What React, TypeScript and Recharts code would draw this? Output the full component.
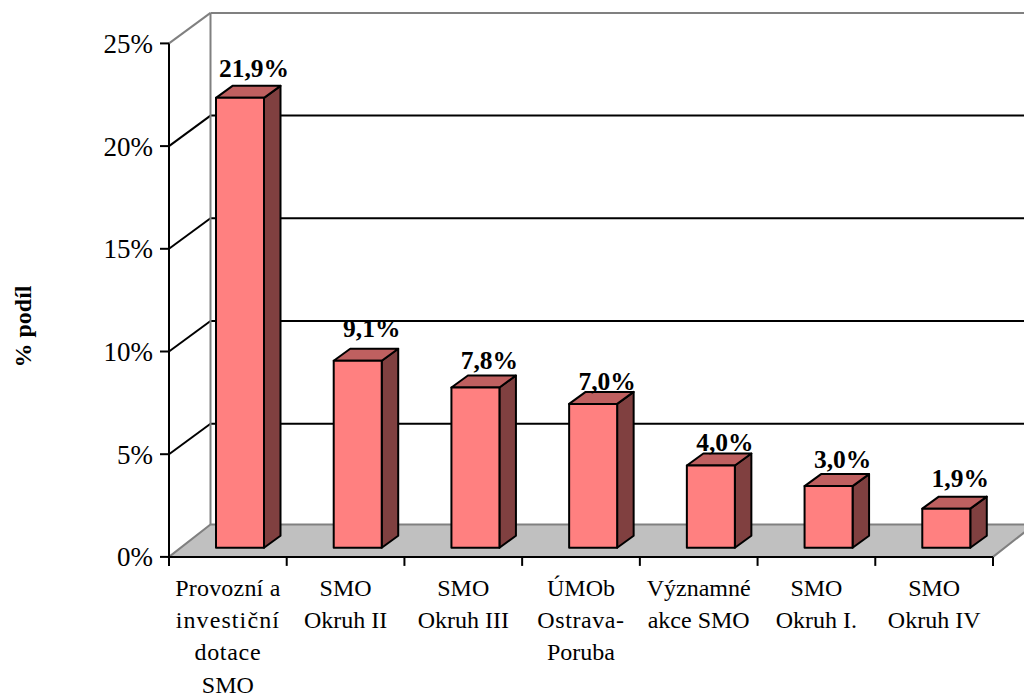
import React from 'react';
import { BarChart, Bar, XAxis, YAxis, CartesianGrid, LabelList } from 'recharts';

const categories = [
  'Provozní a\ninvestiční\ndotace\nSMO',
  'SMO\nOkruh II',
  'SMO\nOkruh III',
  'ÚMOb\nOstrava-\nPoruba',
  'Významné\nakce SMO',
  'SMO\nOkruh I.',
  'SMO\nOkruh IV',
];
const shares = [21.9, 9.1, 7.8, 7.0, 4.0, 3.0, 1.9];
const percentTicks = [0, 5, 10, 15, 20, 25];
const axisTitle = '% podíl';

// hand placement of the data labels above each column, as in the reference
const labelLifts = [9, 12, 6, 2, 3, 6, 10];
// the reference spreads a few wrapped lines slightly wider
const lineSpacing: Record<string, number> = { 'Provozní a': 0.2, 'investiční': 1.1, 'dotace': 0.7, 'Ostrava-': 0.6 };

const data = categories.map((name, i) => ({ name, share: shares[i] }));

const WIDTH = 1024;
const HEIGHT = 693;
const LEFT = 169;
const RIGHT = 993;
const TOP = 43.4;
const BOTTOM = 556.9;
const BAND = (RIGHT - LEFT) / categories.length;
const WALL_DX = 41.5;
const WALL_DY = 30.5;
const FLOOR_DY = 32.5;
const BAR_DX = 12;
const BAR_DY = 9.2;
const DEPTH_X = 16.5;
const DEPTH_Y = 12;
const FONT = '"Liberation Serif", "Times New Roman", serif';
const GREY = '#808080';

function GridLine(props: any) {
  const y = props.y1;
  const isFloor = Math.abs(y - BOTTOM) < 1;
  const isTop = Math.abs(y - TOP) < 1;
  const stroke = isFloor || isTop ? GREY : '#000';
  return (
    <g key={props.key}>
      {isFloor && (
        <polygon
          points={`${LEFT},${BOTTOM} ${LEFT + WALL_DX},${BOTTOM - FLOOR_DY} ${RIGHT + WALL_DX},${BOTTOM - FLOOR_DY} ${RIGHT},${BOTTOM}`}
          fill="#c0c0c0"
          stroke={GREY}
          strokeWidth={2}
        />
      )}
      {isTop && (
        <line x1={LEFT + WALL_DX} y1={y - WALL_DY} x2={LEFT + WALL_DX} y2={BOTTOM - FLOOR_DY} stroke={GREY} strokeWidth={2} />
      )}
      {!isFloor && (
        <line x1={LEFT} y1={y} x2={LEFT + WALL_DX} y2={y - WALL_DY} stroke={stroke} strokeWidth={2} />
      )}
      {!isFloor && (
        <line x1={LEFT + WALL_DX} y1={y - WALL_DY} x2={RIGHT + WALL_DX} y2={y - WALL_DY} stroke={stroke} strokeWidth={2} />
      )}
    </g>
  );
}

function Column(props: any) {
  const { x, y, width, height } = props;
  const l = x + BAR_DX;
  const r = l + width;
  const t = y - BAR_DY;
  const b = t + height;
  const common = { stroke: '#000', strokeWidth: 2, strokeLinejoin: 'round' as const };
  return (
    <g>
      <polygon points={`${r},${t} ${r + DEPTH_X},${t - DEPTH_Y} ${r + DEPTH_X},${b - DEPTH_Y} ${r},${b}`} fill="#804040" {...common} />
      <polygon points={`${l},${t} ${l + DEPTH_X},${t - DEPTH_Y} ${r + DEPTH_X},${t - DEPTH_Y} ${r},${t}`} fill="#bf6060" {...common} />
      <rect x={l} y={t} width={width} height={height} fill="#ff8080" {...common} />
    </g>
  );
}

function ValueLabel(props: any) {
  const { x, y, width, value, index } = props;
  return (
    <text
      x={x + BAR_DX + width / 2 + 14}
      y={y - BAR_DY - DEPTH_Y - labelLifts[index]}
      textAnchor="middle"
      fontFamily={FONT}
      fontWeight="bold"
      fontSize={25.5}
      fill="#000"
    >
      {Number(value).toFixed(1).replace('.', ',') + '%'}
    </text>
  );
}

function CategoryTick(props: any) {
  const { x, payload, index } = props;
  const lines = String(payload.value).split('\n');
  return (
    <g>
      <line x1={x - BAND / 2} y1={BOTTOM} x2={x - BAND / 2} y2={BOTTOM + 9} stroke="#000" strokeWidth={2} />
      {index === categories.length - 1 && (
        <line x1={x + BAND / 2} y1={BOTTOM} x2={x + BAND / 2} y2={BOTTOM + 9} stroke="#000" strokeWidth={2} />
      )}
      <text textAnchor="middle" fontFamily={FONT} fontSize={24} fill="#000">
        {lines.map((line, i) => (
          <tspan key={i} x={x} y={596 + i * 32.2} letterSpacing={lineSpacing[line] ?? 0}>
            {line}
          </tspan>
        ))}
      </text>
    </g>
  );
}

function AxisTitle() {
  return (
    <text
      transform="translate(31 326.5) rotate(-90)"
      textAnchor="middle"
      fontFamily={FONT}
      fontWeight="bold"
      fontSize={24}
      fill="#000"
    >
      {axisTitle}
    </text>
  );
}

export default function App() {
  return (
    <div style={{ position: 'absolute', left: 0, top: 0, width: WIDTH, height: HEIGHT, overflow: 'hidden', background: '#fff' }}>
      <BarChart
        width={WIDTH}
        height={HEIGHT}
        data={data}
        barSize={48}
        margin={{ top: TOP, right: WIDTH - RIGHT, bottom: 0, left: 0 }}
      >
        <CartesianGrid vertical={false} horizontal={(p: any) => <GridLine {...p} />} />
        <XAxis
          dataKey="name"
          type="category"
          height={HEIGHT - BOTTOM}
          interval={0}
          tickLine={false}
          axisLine={{ stroke: '#000', strokeWidth: 2 }}
          tick={(p: any) => <CategoryTick {...p} />}
        />
        <YAxis
          type="number"
          domain={[0, 25]}
          ticks={percentTicks}
          width={LEFT}
          tickFormatter={(v: number) => `${v}%`}
          tickSize={9}
          tickMargin={7}
          interval={0}
          tick={{ fill: '#000', fontSize: 27, fontFamily: FONT }}
          tickLine={{ stroke: '#000', strokeWidth: 2 }}
          axisLine={{ stroke: '#000', strokeWidth: 2 }}
          label={<AxisTitle />}
        />
        <Bar dataKey="share" isAnimationActive={false} shape={<Column />}>
          <LabelList dataKey="share" content={<ValueLabel />} />
        </Bar>
      </BarChart>
    </div>
  );
}
